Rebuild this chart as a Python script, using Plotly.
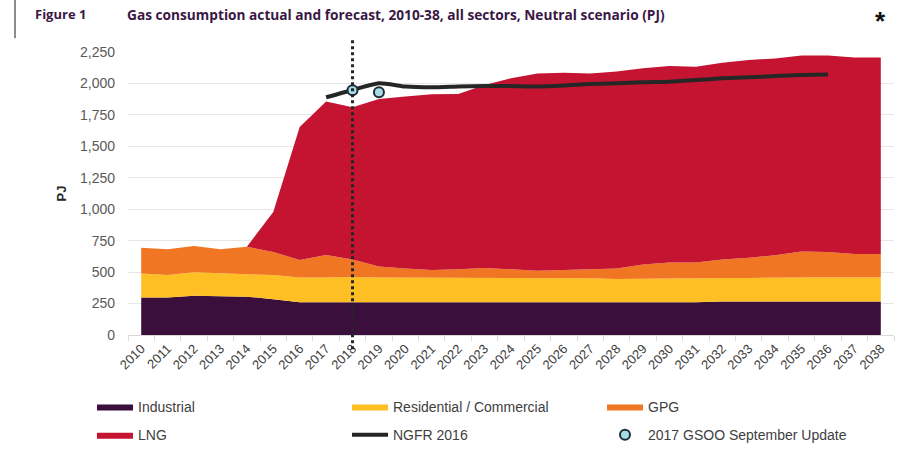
import plotly.graph_objects as go

YEARS = [str(y) for y in range(2010, 2039)]

INDUSTRIAL = [298, 298, 312, 310, 305, 285, 260, 260, 260, 260, 260, 260, 260, 260, 260,
              260, 260, 260, 260, 260, 260, 260, 267, 267, 267, 267, 267, 267, 267]
RESIDENTIAL = [190, 180, 187, 178, 178, 193, 197, 197, 202, 197, 197, 197, 197, 191, 191,
               194, 197, 191, 186, 189, 194, 194, 187, 187, 190, 192, 192, 192, 192]
GPG = [206, 203, 209, 193, 219, 182, 140, 179, 138, 87, 71, 60, 66, 82, 72,
       56, 60, 72, 82, 111, 122, 122, 146, 161, 177, 204, 201, 185, 185]
LNG = [0, 0, 0, 0, 0, 317, 1056, 1220, 1211, 1333, 1368, 1397, 1394, 1455, 1518,
       1570, 1569, 1557, 1566, 1560, 1562, 1557, 1565, 1571, 1565, 1560, 1563, 1563, 1563]

NGFR_YEARS = [str(y) for y in range(2017, 2037)]
NGFR = [1890, 1948, 2001, 1975, 1969, 1975, 1980, 1980, 1975, 1983,
        1996, 2001, 2009, 2014, 2027, 2041, 2049, 2059, 2067, 2072]

GSOO_YEARS = ["2018", "2019"]
GSOO = [1945, 1930]

FORECAST_START = "2018"

TITLE_LABEL = "Figure 1"
TITLE_TEXT = "Gas consumption actual and forecast, 2010-38, all sectors, Neutral scenario (PJ)"

C_IND = "#3a0f3c"
C_RES = "#fdbf24"
C_GPG = "#f07623"
C_LNG = "#c41431"

fig = go.Figure()
for name, vals, col, lg in [("Industrial", INDUSTRIAL, C_IND, "legend"),
                            ("Residential / Commercial", RESIDENTIAL, C_RES, "legend"),
                            ("GPG", GPG, C_GPG, "legend"),
                            ("LNG", LNG, C_LNG, "legend2")]:
    fig.add_trace(go.Scatter(x=YEARS, y=vals, name=name, stackgroup="one",
                             mode="lines", line=dict(width=0, color=col),
                             fillcolor=col, legend=lg))

fig.add_trace(go.Scatter(x=NGFR_YEARS, y=NGFR, name="NGFR 2016", mode="lines",
                         line=dict(color="#262626", width=4, shape="spline", smoothing=0.6),
                         legend="legend2"))
fig.add_trace(go.Scatter(x=GSOO_YEARS, y=GSOO, name="2017 GSOO September Update",
                         mode="markers", legend="legend2",
                         marker=dict(size=10, color="#a6dbea",
                                     line=dict(color="#1e2e38", width=2))))

fig.add_shape(type="line", xref="x", yref="paper",
              x0=YEARS.index(FORECAST_START), x1=YEARS.index(FORECAST_START),
              y0=-0.05, y1=1.05, line=dict(color="#262626", width=3, dash="dot"))

fig.add_shape(type="line", xref="paper", yref="paper",
              x0=-0.1475, x1=-0.1475, y0=1.049, y1=1.2,
              line=dict(color="#8c8c8c", width=2))

fig.add_annotation(text="<b>" + TITLE_LABEL + "</b>", xref="paper", yref="paper",
                   x=-0.124, y=1.134, xanchor="left", yanchor="middle", showarrow=False,
                   font=dict(family="Open Sans", size=13, color="#3a1845"))
fig.add_annotation(text="<b>" + TITLE_TEXT + "</b>", xref="paper", yref="paper",
                   x=-0.004, y=1.134, xanchor="left", yanchor="middle", showarrow=False,
                   font=dict(family="Open Sans", size=13.7, color="#3a1845"))
fig.add_annotation(text="<b>*</b>", xref="paper", yref="paper",
                   x=0.982, y=1.11, xanchor="center", yanchor="middle", showarrow=False,
                   font=dict(family="Arial", size=26, color="#111111"))

legend_common = dict(orientation="h", xanchor="left", yanchor="middle",
                     traceorder="normal", entrywidth=204, entrywidthmode="pixels",
                     font=dict(size=14, color="#404040"), itemwidth=36,
                     bgcolor="rgba(0,0,0,0)")

fig.update_layout(
    width=909, height=462,
    margin=dict(l=128, r=15, t=52, b=126),
    paper_bgcolor="white", plot_bgcolor="white",
    font=dict(family="Arial", color="#404040"),
    showlegend=True,
    legend=dict(x=-0.047, y=-0.25, **legend_common),
    legend2=dict(x=-0.047, y=-0.349, **legend_common),
    xaxis=dict(type="category", tickson="boundaries", ticks="outside", ticklen=5,
               tickcolor="#d9d9d9", showline=True, linecolor="#d9d9d9", linewidth=1,
               showgrid=False, tickangle=-45, tickfont=dict(size=13, color="#404040"),
               range=[-0.5, len(YEARS) - 0.5]),
    yaxis=dict(range=[0, 2250], dtick=250, tickformat=",", showgrid=True,
               gridcolor="#e6e6e6", gridwidth=1, zeroline=False, showline=False,
               ticks="", ticklabelstandoff=12,
               tickfont=dict(size=14, color="#595959"),
               title=dict(text="<b>PJ</b>", font=dict(size=13, color="#262626"), standoff=10)),
)

fig.write_html("out.html", config={"displayModeBar": False},
               post_script="document.body.style.margin='0';")
